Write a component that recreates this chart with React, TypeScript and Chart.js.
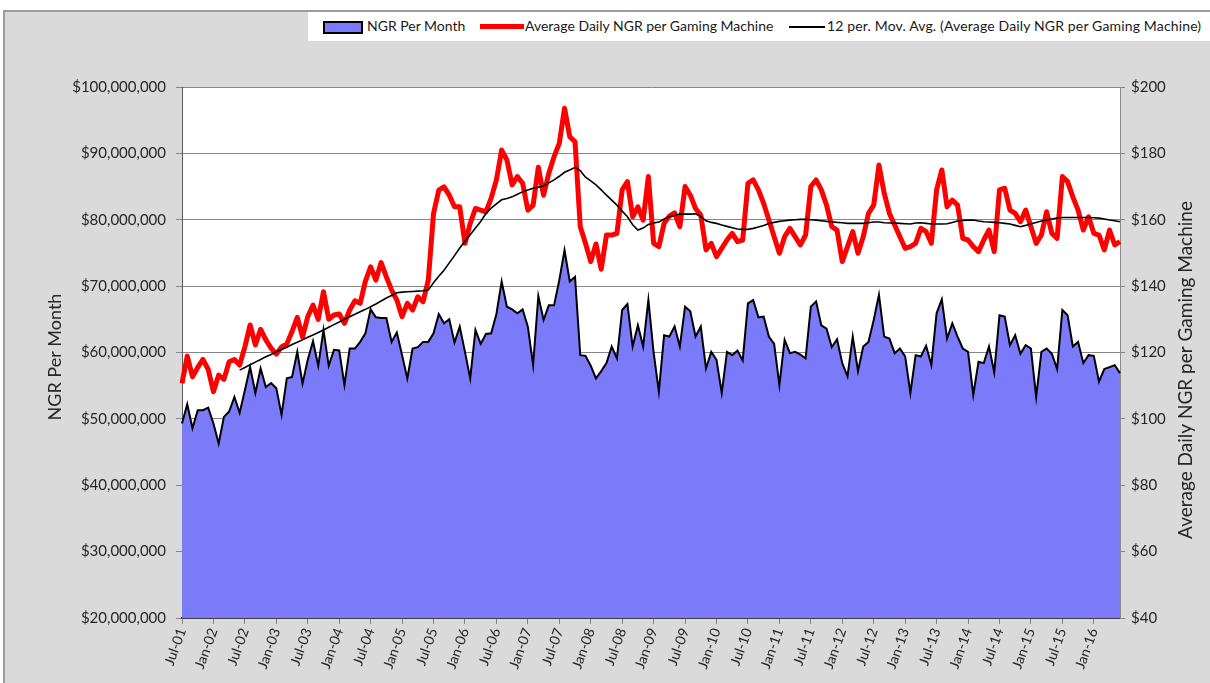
import React, { useEffect, useRef } from "react";
import { Chart, registerables } from "chart.js";

Chart.register(...registerables);

// ---------- Data ----------
const MONTH_NAMES = ["Jan", "Feb", "Mar", "Apr", "May", "Jun", "Jul", "Aug", "Sep", "Oct", "Nov", "Dec"];
// Monthly categories: Jul-01 ... Jun-16 (180 months)
const months: string[] = [];
for (let i = 0; i < 180; i++) {
  const m = (6 + i) % 12;
  const y = 2001 + Math.floor((6 + i) / 12);
  months.push(`${MONTH_NAMES[m]}-${String(y % 100).padStart(2, "0")}`);
}

// NGR per month, in $ millions
const ngrPerMonth: number[] = [
  49.3, 52.2, 48.6, 51.3, 51.3, 51.7, 49.3, 46.3, 50.3, 51.1, 53.3, 50.9,
  54.3, 57.8, 53.9, 57.6, 54.8, 55.4, 54.6, 50.6, 56.1, 56.3, 60.1, 55.3,
  58.9, 61.7, 58.0, 63.4, 58.0, 60.4, 60.3, 55.1, 60.6, 60.6, 61.6, 62.9,
  66.5, 65.3, 65.2, 65.2, 61.6, 63.0, 59.6, 56.1, 60.6, 60.8, 61.6, 61.6,
  62.9, 65.8, 64.4, 65.0, 61.5, 63.9, 60.1, 56.1, 63.4, 61.3, 62.8, 62.9,
  65.8, 70.7, 66.9, 66.5, 65.9, 66.5, 63.9, 58.1, 68.5, 64.9, 67.1, 67.1,
  70.9, 75.4, 70.7, 71.4, 59.6, 59.5, 58.0, 56.1, 57.2, 58.4, 60.9, 59.1,
  66.4, 67.3, 60.9, 64.1, 60.9, 67.9, 60.0, 54.1, 62.6, 62.4, 63.9, 60.9,
  66.9, 66.2, 62.4, 63.9, 57.6, 60.1, 58.9, 53.9, 60.1, 59.6, 60.3, 58.8,
  67.4, 67.9, 65.3, 65.4, 62.4, 61.3, 55.1, 61.9, 59.9, 60.1, 59.7, 59.1,
  66.9, 67.7, 64.1, 63.6, 60.8, 62.0, 58.4, 56.4, 62.4, 57.2, 60.9, 61.6,
  64.9, 68.7, 62.4, 62.1, 59.9, 60.6, 59.4, 53.9, 59.6, 59.4, 61.0, 58.1,
  65.9, 68.0, 62.1, 64.4, 62.4, 60.6, 60.1, 53.6, 58.6, 58.4, 60.9, 57.0,
  65.6, 65.4, 61.1, 62.6, 59.8, 61.1, 60.6, 53.3, 60.1, 60.6, 59.8, 57.5,
  66.4, 65.6, 60.9, 61.6, 58.4, 59.6, 59.5, 55.6, 57.5, 57.8, 58.1, 56.9,
];

// Average daily NGR per gaming machine ($)
const avgDailyNgr: number[] = [
  110.7, 118.9, 112.7, 115.5, 117.9, 114.9, 108.2, 113.2, 111.9, 117.2, 117.9, 116.2,
  121.7, 128.3, 122.3, 127.0, 123.8, 121.3, 119.5, 121.7, 122.6, 126.3, 130.6, 124.6,
  130.8, 134.3, 130.0, 138.3, 130.0, 131.3, 131.6, 128.8, 132.8, 135.6, 134.8, 141.5,
  145.8, 141.8, 147.1, 142.8, 138.8, 135.8, 130.8, 134.8, 132.8, 136.8, 135.3, 141.8,
  161.9, 168.9, 169.9, 167.4, 163.9, 163.9, 152.9, 158.9, 163.4, 162.9, 162.4, 166.5,
  172.0, 181.0, 178.0, 170.5, 173.0, 171.0, 162.9, 164.4, 175.8, 167.4, 174.0, 179.0,
  183.0, 193.6, 185.0, 183.5, 157.9, 152.9, 147.4, 152.7, 145.1, 155.4, 155.4, 155.9,
  169.0, 171.5, 160.9, 163.9, 159.9, 173.0, 152.9, 151.9, 158.9, 161.1, 162.1, 157.9,
  170.0, 167.4, 163.4, 161.4, 150.9, 152.9, 148.9, 151.4, 153.9, 155.9, 153.4, 153.9,
  171.0, 172.0, 169.0, 164.9, 159.9, 154.9, 149.9, 154.9, 157.4, 154.9, 152.4, 155.4,
  170.0, 172.0, 169.0, 164.4, 157.9, 156.9, 147.4, 151.9, 156.4, 149.9, 154.9, 161.9,
  164.4, 176.5, 168.0, 161.9, 158.4, 154.9, 151.4, 151.9, 152.9, 157.4, 156.4, 152.9,
  169.0, 175.0, 163.9, 165.9, 164.4, 154.4, 153.9, 151.9, 150.4, 153.9, 156.9, 150.4,
  169.0, 169.5, 162.9, 161.9, 159.4, 162.9, 157.9, 152.9, 155.4, 162.4, 155.9, 154.4,
  173.0, 171.5, 166.9, 162.9, 156.9, 160.9, 155.9, 155.4, 150.9, 156.9, 152.4, 153.4,
];

// 12 per. moving average line (starts Jun-02)
const movingAvg: (number | null)[] = [
  null, null, null, null, null, null, null, null, null, null, null, 114.7,
  115.5, 116.3, 117.1, 117.9, 118.7, 119.4, 120.2, 120.9, 121.6, 122.4, 123.1, 123.8,
  124.6, 125.3, 126.0, 126.8, 127.6, 128.4, 129.2, 130.0, 130.8, 131.5, 132.3, 133.0,
  133.8, 134.6, 135.5, 136.4, 137.2, 138.0, 138.2, 138.3, 138.4, 138.5, 138.6, 138.8,
  141.0, 143.0, 144.8, 147.0, 149.2, 151.5, 153.5, 155.5, 157.5, 159.5, 161.9, 163.5,
  164.8, 166.0, 166.4, 166.9, 167.7, 168.4, 169.0, 169.5, 169.8, 170.2, 171.1, 172.0,
  173.1, 174.3, 175.0, 175.8, 174.8, 172.8, 171.7, 170.5, 169.0, 167.4, 165.9, 164.4,
  162.6, 160.9, 158.5, 156.9, 157.5, 158.6, 159.0, 159.3, 160.2, 160.9, 161.3, 161.7,
  161.7, 161.7, 161.8, 161.0, 159.7, 159.2, 158.9, 158.4, 158.0, 157.6, 157.2, 157.1,
  157.1, 157.4, 157.8, 158.3, 158.9, 159.2, 159.5, 159.7, 159.9, 160.0, 160.1, 160.1,
  160.0, 159.9, 159.7, 159.5, 159.4, 159.2, 159.1, 158.9, 158.9, 158.9, 158.9, 159.1,
  159.3, 159.3, 159.1, 159.0, 159.0, 158.9, 158.8, 158.7, 159.0, 159.1, 158.9, 158.7,
  158.7, 158.7, 158.8, 159.2, 159.6, 159.8, 159.9, 159.9, 159.6, 159.4, 159.3, 159.2,
  159.1, 158.9, 158.7, 158.3, 157.9, 158.3, 158.8, 159.2, 159.6, 159.9, 160.2, 160.5,
  160.7, 160.7, 160.7, 160.7, 160.7, 160.7, 160.6, 160.5, 160.2, 159.9, 159.7, 159.4,
];

const leftTitle = "NGR Per Month";
const rightTitle = "Average Daily NGR per Gaming Machine";
const seriesNames = [
  "NGR Per Month",
  "Average Daily NGR per Gaming Machine",
  "12 per. Mov. Avg. (Average Daily NGR per Gaming Machine)",
];

const FONT = "Lato, 'Open Sans', sans-serif";
const TEXT = "#262626";
const GRID = "#868686";
const AREA = "#7b7bf9";

const plotPlugin = {
  id: "plotDecor",
  beforeDraw(chart: any) {
    const { ctx, chartArea: a } = chart;
    ctx.save();
    ctx.fillStyle = "#ffffff";
    ctx.fillRect(a.left, a.top, a.right - a.left, a.bottom - a.top);
    ctx.restore();
  },
  afterDraw(chart: any) {
    const { ctx } = chart;
    ctx.save();
    ctx.fillStyle = TEXT;
    ctx.font = `18px ${FONT}`;
    ctx.textAlign = "center";
    ctx.textBaseline = "middle";
    ctx.translate(55, 357);
    ctx.rotate(-Math.PI / 2);
    ctx.fillText(leftTitle, 0, 0);
    ctx.restore();
    ctx.save();
    ctx.fillStyle = TEXT;
    ctx.font = `19px ${FONT}`;
    ctx.textAlign = "center";
    ctx.textBaseline = "middle";
    ctx.translate(1186, 370);
    ctx.rotate(-Math.PI / 2);
    ctx.fillText(rightTitle, 0, 0);
    ctx.restore();
  },
};

export default function App() {
  const ref = useRef<HTMLCanvasElement | null>(null);

  useEffect(() => {
    if (!ref.current) return;
    const chart = new Chart(ref.current, {
      type: "line",
      data: {
        labels: months,
        datasets: [
          {
            label: seriesNames[2],
            data: movingAvg,
            yAxisID: "y1",
            borderColor: "#000000",
            borderWidth: 1.6,
            pointRadius: 0,
            fill: false,
            tension: 0,
            order: 1,
          },
          {
            label: seriesNames[1],
            data: avgDailyNgr,
            yAxisID: "y1",
            borderColor: "#ff0000",
            borderWidth: 5,
            borderJoinStyle: "round",
            pointRadius: 0,
            fill: false,
            tension: 0,
            order: 2,
          },
          {
            label: seriesNames[0],
            data: ngrPerMonth,
            yAxisID: "y",
            borderColor: "#000000",
            borderWidth: 2,
            backgroundColor: AREA,
            fill: "start",
            pointRadius: 0,
            tension: 0,
            order: 3,
          },
        ],
      },
      options: {
        responsive: false,
        animation: false,
        devicePixelRatio: 1,
        layout: { padding: { top: 87, left: 0, right: 0, bottom: 0 } },
        plugins: { legend: { display: false }, tooltip: { enabled: false } },
        scales: {
          x: {
            type: "category",
            offset: false,
            afterBuildTicks: (axis: any) => {
              axis.ticks = axis.ticks.filter((t: any) => t.value % 6 === 0);
            },
            afterFit: (s: any) => {
              s.height = 65;
            },
            grid: {
              drawOnChartArea: false,
              drawTicks: true,
              tickLength: 6,
              tickColor: GRID,
            },
            border: { color: "#3a3a4a", width: 2 },
            ticks: {
              autoSkip: false,
              minRotation: 70,
              maxRotation: 70,
              padding: 2,
              color: TEXT,
              font: { family: FONT, size: 14 },
            },
          },
          y: {
            position: "left",
            min: 20,
            max: 100,
            afterFit: (s: any) => {
              s.width = 182;
            },
            grid: {
              color: GRID,
              lineWidth: 1,
              drawTicks: true,
              tickLength: 6,
              tickColor: GRID,
            },
            border: { color: "#5a5a5a", width: 1 },
            ticks: {
              stepSize: 10,
              padding: 10,
              color: TEXT,
              font: { family: FONT, size: 15 },
              callback: (v: any) => "$" + (Number(v) * 1e6).toLocaleString("en-US"),
            },
          },
          y1: {
            position: "right",
            min: 40,
            max: 200,
            afterFit: (s: any) => {
              s.width = 90;
            },
            grid: {
              drawOnChartArea: false,
              drawTicks: true,
              tickLength: 5,
              tickColor: GRID,
            },
            border: { color: "#8a8a8a", width: 1 },
            ticks: {
              stepSize: 20,
              padding: 6,
              color: TEXT,
              font: { family: FONT, size: 15 },
              callback: (v: any) => "$" + v,
            },
          },
        },
      },
      plugins: [plotPlugin],
    } as any);
    return () => chart.destroy();
  }, []);

  return (
    <div style={{ position: "absolute", left: 0, top: 0, width: 1210, height: 683, background: "#ffffff", overflow: "hidden" }}>
      <div
        style={{
          position: "absolute",
          left: 3,
          top: 10,
          width: 1207,
          height: 673,
          background: "#dadada",
          borderLeft: "2px solid #9c9c9c",
          borderTop: "2px solid #9c9c9c",
          boxSizing: "border-box",
        }}
      />
      <canvas ref={ref} width={1210} height={683} style={{ position: "absolute", left: 0, top: 0, width: 1210, height: 683 }} />
      <div
        style={{
          position: "absolute",
          left: 308,
          top: 12,
          width: 902,
          height: 29,
          background: "#ffffff",
          fontFamily: FONT,
          fontSize: 14,
          color: "#1a1a1a",
          whiteSpace: "nowrap",
        }}
      >
        <div style={{ position: "absolute", left: 15, top: 9, width: 36, height: 9, background: AREA, border: "2px solid #000" }} />
        <div style={{ position: "absolute", left: 59, top: 5, lineHeight: "18px" }}>{seriesNames[0]}</div>
        <div style={{ position: "absolute", left: 172, top: 12, width: 44, height: 5, background: "#ff0000" }} />
        <div style={{ position: "absolute", left: 217, top: 5, lineHeight: "18px" }}>{seriesNames[1]}</div>
        <div style={{ position: "absolute", left: 481, top: 14, width: 36, height: 2, background: "#000" }} />
        <div style={{ position: "absolute", left: 519, top: 5, lineHeight: "18px", letterSpacing: "0.15px" }}>{seriesNames[2]}</div>
      </div>
    </div>
  );
}
